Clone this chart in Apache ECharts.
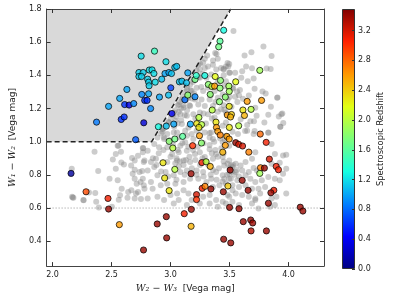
<!DOCTYPE html>
<html><head><meta charset="utf-8">
<script src="https://cdn.jsdelivr.net/npm/echarts@6/dist/echarts.min.js"></script>
<style>html,body{margin:0;padding:0;background:#fff}#c{width:399px;height:299px}</style>
</head><body><div id="c"></div>
<script>
// ---- data ----
const xTicks = [2.0, 2.5, 3.0, 3.5, 4.0];
const yTicks = [0.4, 0.6, 0.8, 1.0, 1.2, 1.4, 1.6, 1.8];
const cbTicks = [0.0, 0.4, 0.8, 1.2, 1.6, 2.0, 2.4, 2.8, 3.2];
const zMax = 3.49;
const wedgeX = [1.95, 2.84, 3.51];
const wedgeY = [1.0, 1.0, 1.8];
const cutY = 0.6;

// colored points (spectroscopic redshift)
const specX = [2.373,2.475,2.630,2.569,2.611,2.649,2.688,2.582,2.607,2.773,2.704,2.751,2.864,2.732,2.768,2.732,2.754,2.806,2.814,2.818,2.820,2.843,2.859,2.756,2.781,2.801,2.814,2.831,2.870,2.906,2.925,2.961,2.953,2.986,3.008,3.002,2.983,3.036,3.052,3.075,3.096,3.146,3.135,3.121,3.011,2.897,2.964,3.027,3.168,3.207,3.218,3.207,3.240,3.222,3.263,3.240,3.146,2.988,3.036,3.102,3.245,3.187,3.450,3.419,3.408,3.290,3.320,3.350,3.373,3.423,3.419,3.494,3.497,3.464,3.378,3.336,3.414,3.353,3.497,3.385,3.481,3.516,3.508,3.389,3.400,3.421,3.498,3.756,3.552,3.649,3.771,3.613,3.682,3.626,3.577,3.760,3.477,3.497,3.810,3.552,3.577,3.610,3.464,3.442,3.663,3.837,3.895,3.914,3.762,3.795,3.756,3.505,3.607,3.486,3.657,3.875,3.850,3.447,3.829,3.500,3.580,4.099,4.121,3.616,3.679,3.696,3.682,3.812,3.450,3.510,3.019,3.262,2.936,3.036,3.265,3.301,3.336,3.174,2.950,3.268,3.292,3.342,2.988,3.220,3.220,3.176,3.116,2.964,2.887,3.174,2.967,2.771,2.157,2.284,2.470,2.475,2.566];
const specY = [1.118,1.213,1.315,1.261,1.224,1.221,1.230,1.134,1.149,1.114,1.012,1.516,1.546,1.417,1.417,1.393,1.393,1.377,1.359,1.337,1.432,1.433,1.411,1.285,1.249,1.249,1.289,1.200,1.359,1.269,1.377,1.482,1.411,1.417,1.411,1.325,1.281,1.448,1.454,1.361,1.365,1.415,1.355,1.253,1.170,1.090,1.094,1.106,1.106,1.375,1.399,1.271,1.146,1.109,1.103,1.086,1.281,1.002,1.016,1.032,1.036,0.976,1.672,1.606,1.572,1.399,1.345,1.333,1.335,1.369,1.323,1.335,1.303,1.269,1.393,1.285,1.241,1.191,1.213,1.118,1.161,1.164,1.149,1.086,1.062,1.040,1.086,1.430,1.361,1.243,1.249,1.191,1.195,1.158,1.096,1.046,1.032,1.016,0.996,0.994,0.984,0.974,0.978,0.937,0.937,0.895,0.851,0.831,0.843,0.841,0.809,0.829,0.767,0.733,0.707,0.707,0.692,0.698,0.629,0.604,0.596,0.605,0.582,0.518,0.528,0.510,0.462,0.462,0.412,0.390,0.962,0.992,0.873,0.833,0.874,0.879,0.851,0.807,0.781,0.719,0.731,0.715,0.705,0.681,0.651,0.592,0.566,0.548,0.504,0.490,0.420,0.347,0.809,0.698,0.658,0.594,0.500];
const specZ = [0.85,1.0,1.0,1.0,0.6,0.35,0.9,0.6,0.6,0.3,0.75,1.2,1.45,1.15,1.15,1.15,1.15,1.15,1.15,1.15,1.2,1.2,1.2,0.9,0.6,0.6,1.0,0.9,1.2,1.0,1.1,1.2,1.0,1.0,1.1,0.65,1.1,1.1,1.1,1.1,1.1,1.0,1.1,0.8,0.4,1.3,1.1,1.0,1.0,1.7,1.4,0.9,2.0,2.3,2.0,2.3,1.8,1.8,1.7,1.6,2.6,3.0,1.3,1.6,1.7,1.3,1.8,2.0,2.6,1.8,1.8,1.9,1.9,1.8,2.2,1.8,1.8,2.0,2.3,2.3,2.6,2.4,2.5,2.6,2.6,2.7,2.3,1.9,2.2,2.6,2.6,2.3,2.0,2.5,2.0,2.8,2.6,2.6,3.1,3.4,3.2,3.2,2.6,2.5,2.7,3.2,3.1,3.1,2.7,3.4,1.9,3.4,3.4,2.4,3.4,3.1,3.4,3.4,3.4,3.4,3.4,3.4,3.4,3.4,3.4,3.4,3.3,3.4,3.4,3.4,2.0,1.8,2.3,2.0,3.1,2.0,2.5,3.4,2.3,3.1,2.7,3.4,2.3,3.2,3.0,3.4,3.1,3.4,3.4,2.5,3.4,3.4,0.1,2.9,3.1,3.4,2.6];

// grey points (full sample)
const allX = [2.356,2.552,2.536,2.580,2.511,2.583,2.605,2.674,2.666,2.696,2.679,2.163,2.387,2.536,2.483,2.552,2.713,2.746,2.760,2.586,2.668,2.641,2.635,2.572,2.561,2.370,2.392,2.309,2.362,2.262,2.166,2.177,2.503,2.749,2.773,2.773,2.768,2.707,2.171,2.263,2.558,2.765,
3.533,3.787,3.685,3.627,3.856,3.814,3.848,3.690,3.640,3.483,3.489,3.450,3.502,3.547,3.607,3.599,3.654,3.704,3.712,3.779,3.806,3.903,3.850,3.947,3.917,3.955,3.930,3.828,3.795,3.676,3.707,3.729,3.718,3.663,3.613,3.566,3.547,3.588,3.525,3.563,3.469,3.455,3.516,3.455,3.594,3.649,3.632,3.712,3.828,3.469,3.525,3.571,
3.215,3.235,3.276,3.248,3.290,3.317,3.359,3.387,3.428,3.469,3.497,3.345,3.304,3.248,3.193,3.166,3.138,3.179,3.221,3.276,3.317,3.373,3.442,3.483,3.400,3.331,3.262,3.207,3.152,3.096,3.069,3.110,3.166,3.235,3.290,3.359,3.428,3.469,3.027,3.083,3.138,3.193,3.248,3.317,3.373,2.986,3.041,3.096,3.152,3.221,3.290,3.345,3.442,2.931,2.972,3.027,3.069,3.138,3.331,3.469,2.889,2.945,
3.378,3.389,3.400,3.360,3.497,3.450,3.906,3.939,3.930,
2.931,2.945,3.055,3.124,3.179,3.331,3.359,3.442,3.497,3.193,3.124,3.083,2.972,2.903,2.862,2.806,2.765,2.724,2.696,2.779,2.834,2.876,3.014,3.069,3.138,3.207,3.248,3.331,3.386,3.442,3.497,3.511,3.359,3.290,3.166,3.110,3.055,2.972,2.862,2.806,2.737,2.696,2.765,2.834,2.889,2.958,3.027,3.083,3.138,3.221,3.276,3.386,3.442,3.497,3.345,3.304,3.235,3.166,3.110,3.041,2.972,2.917,2.848,2.779,2.724,2.696,2.806,2.889,2.945,3.000,3.055,3.110,3.152,3.276,3.331,3.386,3.442,3.483,3.525,3.359,3.414,3.469,3.069,3.138,3.179,3.027,3.248,3.331,3.400,
3.649,3.704,3.828,3.856,3.884,3.953,3.980,3.718,3.690,3.635,3.593,3.552,3.524,3.483,3.455,3.497,3.552,3.607,3.663,3.704,3.732,3.856,3.925,3.980,3.953,3.925,3.884,3.828,3.773,3.718,3.676,3.635,3.566,3.511,3.455,3.524,3.580,3.635,3.690,3.745,3.801,3.759,3.718,3.663,3.607,3.552,3.497,3.524,3.469,3.580,3.690,3.856,3.897,3.980,3.842,3.884,3.718,3.745,
3.16,3.18,3.20,3.22,3.25,3.19,3.24,3.27,3.29,3.31,3.14,3.12,3.10,3.08,3.06,3.04,3.02,3.00,2.98,2.96,2.94,2.92,3.05,3.07,3.09,3.11,3.13,3.15,3.17,3.12,3.14,3.16,3.18,3.20,3.03,3.06,3.09,
3.50,3.52,3.54,3.56,3.58,3.53,3.48,3.05,3.08,3.11,3.13,3.07,3.35,3.38,3.40,3.30,3.27,3.43,3.45,
3.02,3.06,3.10,3.15,3.19,3.23,3.28,3.33,3.37,3.42,3.46,3.00,3.04,3.16,3.21,3.25,3.32,3.36,3.41,3.45,3.18,3.12,3.22,3.28,3.34,3.39,3.44,3.05,2.98,2.92,2.88,2.85,2.90,2.94,2.99,3.25,3.30,3.35,3.40,3.45,3.50,3.38,3.28,3.21,3.34,3.26,3.40,3.45,3.53,3.58];
const allY = [0.940,0.976,0.926,0.940,0.893,0.875,0.863,0.901,0.857,0.831,0.807,0.837,0.823,0.837,0.777,0.767,0.747,0.757,0.823,0.717,0.707,0.697,0.662,0.677,0.650,0.638,0.604,0.693,0.691,0.648,0.668,0.662,0.608,0.654,0.737,0.877,0.960,0.687,0.663,0.647,0.976,0.962,
1.668,1.574,1.540,1.520,1.516,1.441,1.439,1.443,1.454,1.474,1.454,1.435,1.415,1.415,1.425,1.385,1.365,1.381,1.319,1.303,1.291,1.265,1.211,1.170,1.152,1.112,1.090,1.162,1.116,1.124,1.124,1.156,1.205,1.279,1.259,1.239,1.271,1.311,1.325,1.303,1.365,1.335,1.211,1.192,1.136,1.100,1.064,1.064,1.054,1.116,1.060,1.046,
1.484,1.464,1.478,1.435,1.445,1.454,1.464,1.435,1.445,1.454,1.415,1.405,1.385,1.385,1.375,1.345,1.315,1.305,1.325,1.305,1.325,1.305,1.285,1.255,1.265,1.255,1.255,1.255,1.265,1.255,1.225,1.206,1.215,1.225,1.215,1.215,1.196,1.176,1.176,1.166,1.156,1.166,1.176,1.166,1.146,1.116,1.126,1.106,1.086,1.066,1.056,1.056,1.096,1.076,1.046,1.056,1.026,1.036,1.026,1.036,1.026,1.016,
1.534,1.528,1.500,1.490,1.469,1.440,1.267,1.166,1.090,
1.060,1.026,1.056,1.066,1.046,1.052,1.016,0.996,0.976,1.016,0.996,0.976,0.966,0.966,0.986,0.946,0.936,0.916,0.887,0.887,0.877,0.897,0.926,0.936,0.946,0.926,0.936,0.955,0.926,0.907,0.887,0.857,0.897,0.907,0.877,0.887,0.887,0.877,0.847,0.827,0.817,0.777,0.777,0.757,0.797,0.817,0.797,0.817,0.827,0.827,0.817,0.817,0.797,0.777,0.777,0.757,0.777,0.777,0.757,0.747,0.747,0.737,0.717,0.717,0.697,0.658,0.658,0.668,0.648,0.678,0.687,0.707,0.687,0.668,0.678,0.648,0.638,0.678,0.707,0.727,0.737,0.747,0.648,0.618,0.648,0.628,0.628,0.628,0.608,
1.066,1.046,1.056,0.986,0.926,0.917,0.921,0.936,0.897,0.877,0.857,0.867,0.847,0.867,0.857,0.807,0.817,0.827,0.817,0.841,0.827,0.867,0.873,0.837,0.807,0.767,0.777,0.787,0.767,0.757,0.777,0.797,0.767,0.777,0.777,0.737,0.727,0.737,0.717,0.717,0.727,0.687,0.658,0.668,0.678,0.687,0.668,0.638,0.628,0.618,0.628,0.658,0.668,0.687,0.608,0.618,0.648,0.598,
1.40,1.42,1.45,1.43,1.47,1.36,1.39,1.41,1.50,1.52,1.33,1.30,1.27,1.24,1.22,1.19,1.16,1.14,1.12,1.10,1.08,1.05,1.15,1.18,1.20,1.22,1.25,1.28,1.31,1.16,1.19,1.22,1.26,1.29,1.09,1.11,1.13,
0.84,0.82,0.80,0.83,0.79,0.86,0.80,0.90,0.88,0.86,0.89,0.85,0.93,0.95,0.91,0.88,0.90,0.96,0.93,
0.98,0.95,0.99,0.97,0.95,0.97,0.99,0.98,1.00,1.02,1.01,0.91,0.87,0.91,0.89,0.86,0.86,0.83,0.84,0.88,0.84,0.80,0.80,0.79,0.80,0.77,0.76,0.77,0.79,0.82,0.86,0.90,0.93,0.95,1.01,1.08,1.11,1.14,1.18,1.22,1.27,1.24,1.17,1.14,1.28,1.33,1.36,1.40,1.32,1.28];

// ---- build ----
const jet = ['#000080','#0000ff','#0080ff','#15ffe2','#7bff7b','#e2ff15','#ff9700','#ff2100','#800000'];
const greyData = allX.map((x, i) => [x, allY[i]]);
const specData = specX.map((x, i) => [x, specY[i], specZ[i]]);
const wedgeData = wedgeX.map((x, i) => [x, wedgeY[i]]);
const fmt = v => Number(v).toFixed(1);
const tickFont = {fontFamily: 'DejaVu Sans', fontSize: 8, color: '#222'};
const frame = {show: true, lineStyle: {color: '#444', width: 1}};

const chart = echarts.init(document.getElementById('c'), null, {renderer: 'canvas'});
chart.setOption({
  animation: false,
  backgroundColor: '#fff',
  grid: [
    {left: 40, top: 9, width: 284, height: 259},
    {left: 342, top: 9, width: 13, height: 260}
  ],
  xAxis: [
    {type: 'value', gridIndex: 0, min: 1.95, max: 4.3, z: 5,
     axisLine: frame, splitLine: {show: false},
     axisTick: {show: true, inside: true, length: 4, customValues: xTicks, lineStyle: {color: '#333'}},
     axisLabel: {customValues: xTicks, formatter: fmt, margin: 5, ...tickFont},
     name: '{i|W₂ − W₃}{n|  [Vega mag]}', nameLocation: 'middle', nameGap: 17,
     nameTextStyle: {rich: {
       i: {fontFamily: 'DejaVu Serif', fontStyle: 'italic', fontSize: 9.5, color: '#222'},
       n: {fontFamily: 'DejaVu Sans', fontSize: 9, color: '#222'}}}},
    {type: 'value', gridIndex: 0, position: 'top', min: 1.95, max: 4.3, z: 5,
     axisLine: frame, splitLine: {show: false},
     axisTick: {show: true, inside: true, length: 4, customValues: xTicks, lineStyle: {color: '#333'}},
     axisLabel: {show: false}},
    {type: 'category', gridIndex: 1, data: ['z'], show: false}
  ],
  yAxis: [
    {type: 'value', gridIndex: 0, min: 0.25, max: 1.8, z: 5,
     axisLine: frame, splitLine: {show: false},
     axisTick: {show: true, inside: true, length: 4, customValues: yTicks, lineStyle: {color: '#333'}},
     axisLabel: {customValues: yTicks, formatter: fmt, margin: 5, ...tickFont},
     name: '{i|W₁ − W₂}{n|  [Vega mag]}', nameLocation: 'middle', nameGap: 19,
     nameTextStyle: {rich: {
       i: {fontFamily: 'DejaVu Serif', fontStyle: 'italic', fontSize: 9.5, color: '#222'},
       n: {fontFamily: 'DejaVu Sans', fontSize: 9, color: '#222'}}}},
    {type: 'value', gridIndex: 0, position: 'right', min: 0.25, max: 1.8, z: 5,
     axisLine: frame, splitLine: {show: false},
     axisTick: {show: true, inside: true, length: 4, customValues: yTicks, lineStyle: {color: '#333'}},
     axisLabel: {show: false}},
    {type: 'value', gridIndex: 1, position: 'right', min: 0, max: zMax, z: 5,
     axisLine: {show: false}, splitLine: {show: false},
     axisTick: {show: true, inside: true, length: 3, customValues: cbTicks, lineStyle: {color: '#333'}},
     axisLabel: {customValues: cbTicks, formatter: fmt, margin: 3, ...tickFont},
     name: 'Spectroscopic Redshift', nameLocation: 'middle', nameGap: 22, nameRotate: 90,
     nameTextStyle: {fontFamily: 'DejaVu Sans', fontSize: 8.3, color: '#222'}}
  ],
  visualMap: {type: 'continuous', show: false, seriesIndex: 3, dimension: 2,
              min: 0, max: zMax, inRange: {color: jet}},
  series: [
    {type: 'scatter', xAxisIndex: 0, yAxisIndex: 0, z: 2, data: greyData,
     symbolSize: 6, itemStyle: {color: 'rgba(128,128,128,0.5)', borderWidth: 0}},
    {type: 'line', xAxisIndex: 0, yAxisIndex: 0, z: 3, data: wedgeData, symbol: 'none',
     lineStyle: {color: '#222', width: 1.5, type: [5, 3]},
     areaStyle: {origin: 'end', color: '#d9d9d9', opacity: 1}},
    {type: 'line', xAxisIndex: 0, yAxisIndex: 0, z: 3, symbol: 'none',
     data: [[1.95, cutY], [4.3, cutY]],
     lineStyle: {color: '#777', width: 0.8, type: [1, 2]}},
    {type: 'scatter', xAxisIndex: 0, yAxisIndex: 0, z: 4, data: specData,
     symbolSize: 6.2, itemStyle: {borderColor: '#000', borderWidth: 0.9}},
    {type: 'bar', xAxisIndex: 2, yAxisIndex: 2, data: [zMax], barWidth: '100%',
     itemStyle: {borderColor: '#333', borderWidth: 1,
       color: new echarts.graphic.LinearGradient(0, 0, 0, 1,
         jet.slice().reverse().map((c, i) => ({offset: i / (jet.length - 1), color: c})))}}
  ]
});
</script></body></html>
